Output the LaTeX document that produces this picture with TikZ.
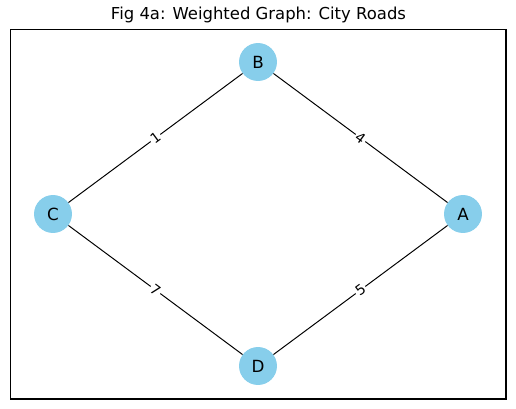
\documentclass[tikz,border=0pt]{standalone}
\usepackage{fontspec}
\setmainfont{DejaVu Sans}
\usepackage{xcolor}
\usepackage{tikz}
\definecolor{skyblue}{HTML}{87CEEB}
\tikzstyle{city} = [circle, fill=skyblue, minimum size=27pt, inner sep=0pt, font=\fontsize{11.9}{14}\selectfont]
\tikzstyle{road} = [draw, line width=0.7pt]
\tikzstyle{weight} = [midway, sloped, fill=white, inner sep=1pt, font=\fontsize{9.9}{12}\selectfont]

\begin{document}
\begin{tikzpicture}[x=0.025cm, y=-0.025cm]
\useasboundingbox (0,0) rectangle (516,409);
\node (title) at (258.5,15) {\fontsize{11.7}{14}\selectfont Fig 4a: Weighted Graph: City Roads};
\draw [line width=0.75pt] (10.5,29.5) rectangle (506,399);
\node [city] (B) at (258,62) {B};
\node [city] (C) at (53,214) {C};
\node [city] (A) at (463,214) {A};
\node [city] (D) at (258,366) {D};
\path [road] (C) -- (B) node [weight] {1};
\path [road] (B) -- (A) node [weight] {4};
\path [road] (C) -- (D) node [weight] {7};
\path [road] (D) -- (A) node [weight] {5};
\end{tikzpicture}
\end{document}
